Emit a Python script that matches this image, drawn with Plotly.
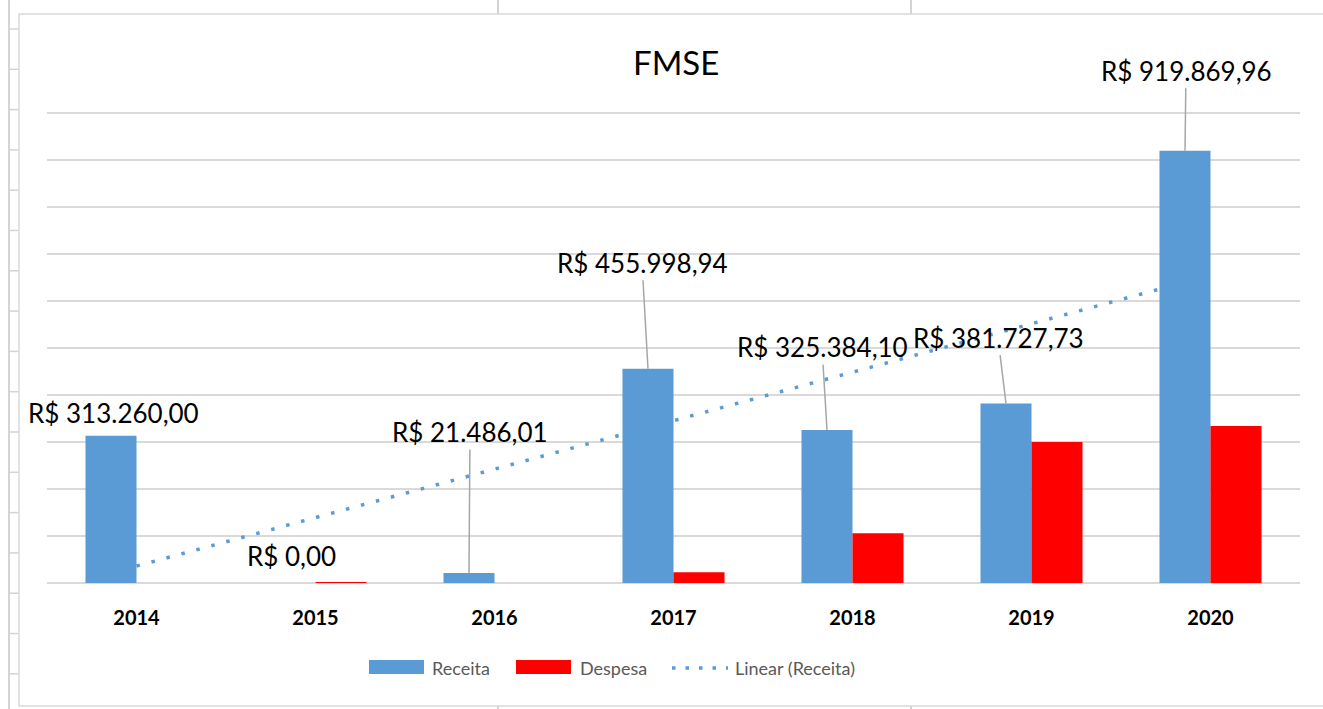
import numpy as np
import plotly.graph_objects as go

# ---- data ----
years = ["2014", "2015", "2016", "2017", "2018", "2019", "2020"]
receita = [313260.00, 0.00, 21486.01, 455998.94, 325384.10, 381727.73, 919869.96]
despesa = [0.0, 1500.0, 0.0, 23000.0, 106000.0, 300000.0, 334000.0]
receita_labels = ["R$ 313.260,00", "R$ 0,00", "R$ 21.486,01", "R$ 455.998,94",
                  "R$ 325.384,10", "R$ 381.727,73", "R$ 919.869,96"]
title_text = "FMSE"
legend_names = ["Receita", "Despesa", "Linear (Receita)"]

BLUE = "#5B9BD5"
RED = "#FF0000"
GRID = "#D9D9D9"
FONT = "Lato"

W, H = 1323, 709
L, R, T, B = 47, 23, 108, 126
PW, PH = W - L - R, H - T - B
YMAX = 1000000 * PH / 470.0   # 470 px per 1,000,000


def px_x(p):
    return (p - L) / PW


def px_y(p):
    return (H - B - p) / PH


xpos = np.arange(1, len(years) + 1)

# linear trend (Excel "Linear (Receita)")
slope, intercept = np.polyfit(xpos, receita, 1)
trend = slope * xpos + intercept

fig = go.Figure()
fig.add_trace(go.Bar(x=xpos, y=receita, name=legend_names[0], marker_color=BLUE,
                     marker_line_width=0, showlegend=False))
fig.add_trace(go.Bar(x=xpos, y=despesa, name=legend_names[1], marker_color=RED,
                     marker_line_width=0, showlegend=False))

shapes = []
# trendline beneath bars
shapes.append(dict(type="line", xref="x", yref="y", x0=float(xpos[0]), x1=float(xpos[-1]),
                   y0=float(trend[0]), y1=float(trend[-1]), layer="between",
                   line=dict(color=BLUE, width=3.5, dash="3.5px,12px")))

# spreadsheet / chart-area decoration
sc = "#D4D4D4"
shapes.append(dict(type="line", xref="paper", yref="paper", x0=px_x(9), x1=px_x(9),
                   y0=px_y(0), y1=px_y(709), line=dict(color=sc, width=2), layer="below"))
for k in range(17):
    yy = 29 + 40.3 * k
    shapes.append(dict(type="line", xref="paper", yref="paper", x0=px_x(9), x1=px_x(19),
                       y0=px_y(yy), y1=px_y(yy), line=dict(color=sc, width=1.5), layer="below"))
for xx in (498, 911):
    shapes.append(dict(type="line", xref="paper", yref="paper", x0=px_x(xx), x1=px_x(xx),
                       y0=px_y(0), y1=px_y(14), line=dict(color=sc, width=2), layer="below"))
    shapes.append(dict(type="line", xref="paper", yref="paper", x0=px_x(xx), x1=px_x(xx),
                       y0=px_y(706), y1=px_y(709), line=dict(color=sc, width=2), layer="below"))
shapes.append(dict(type="rect", xref="paper", yref="paper", x0=px_x(19), x1=px_x(1335),
                   y0=px_y(14), y1=px_y(706), line=dict(color=GRID, width=1.5),
                   fillcolor="rgba(0,0,0,0)", layer="below"))

# custom legend (Excel-style wide swatches)
shapes.append(dict(type="rect", xref="paper", yref="paper", x0=px_x(369), x1=px_x(424),
                   y0=px_y(660), y1=px_y(674), line_width=0, fillcolor=BLUE))
shapes.append(dict(type="rect", xref="paper", yref="paper", x0=px_x(516), x1=px_x(571),
                   y0=px_y(660), y1=px_y(674), line_width=0, fillcolor=RED))
shapes.append(dict(type="line", xref="paper", yref="paper", x0=px_x(672), x1=px_x(728),
                   y0=px_y(668), y1=px_y(668),
                   line=dict(color=BLUE, width=3.5, dash="3.5px,10px")))

annotations = []
annotations.append(dict(text=title_text, xref="paper", yref="paper", x=px_x(676), y=px_y(62),
                        showarrow=False, xanchor="center", yanchor="middle",
                        font=dict(family=FONT, size=33, color="#000000")))
for name, xl in zip(legend_names, (430, 578, 733)):
    annotations.append(dict(text=name, xref="paper", yref="paper", x=px_x(xl), y=px_y(668),
                            showarrow=False, xanchor="left", yanchor="middle",
                            font=dict(family=FONT, size=18, color="#595959")))

# data labels: offsets (px) of label centre from bar top, leader line flag
label_offsets = [(2, -23, False), (1, -27, False), (1, -141, True), (-6, -106, True),
                 (-5, -83, True), (-8, -66, True), (1, -80, True)]
for xp, val, txt, (dx, dy, lead) in zip(xpos, receita, receita_labels, label_offsets):
    if lead:
        annotations.append(dict(text=txt, x=float(xp), y=val, xref="x", yref="y", xshift=-25.5,
                                showarrow=True, arrowhead=0, arrowwidth=1.5,
                                arrowcolor="#A6A6A6", ax=dx, ay=dy, standoff=0,
                                font=dict(family=FONT, size=26, color="#000000")))
    else:
        annotations.append(dict(text=txt, x=float(xp), y=val, xref="x", yref="y",
                                xshift=-25.5 + dx, yshift=-dy, showarrow=False,
                                xanchor="center", yanchor="middle",
                                font=dict(family=FONT, size=26, color="#000000")))

fig.update_layout(
    width=W, height=H, autosize=False,
    margin=dict(l=L, r=R, t=T, b=B, pad=0),
    paper_bgcolor="white", plot_bgcolor="rgba(0,0,0,0)",
    barmode="group", bargap=0.43, bargroupgap=0,
    showlegend=False,
    shapes=shapes, annotations=annotations,
    font=dict(family=FONT),
)
fig.update_xaxes(range=[0.5, len(years) + 0.5], tickmode="array", tickvals=xpos,
                 ticktext=years, showgrid=False, showline=False, zeroline=False,
                 ticks="", ticklabelstandoff=21,
                 tickfont=dict(family=FONT, size=20, color="#000000", weight="bold"))
fig.update_yaxes(range=[0, YMAX], tickmode="array",
                 tickvals=[100000 * k for k in range(11)], showticklabels=False,
                 showgrid=True, gridcolor=GRID, gridwidth=1.5,
                 zeroline=True, zerolinecolor=GRID, zerolinewidth=1.5, showline=False)

fig.write_html("out.html", config={"displayModeBar": False},
               post_script="document.body.style.margin='0';")
